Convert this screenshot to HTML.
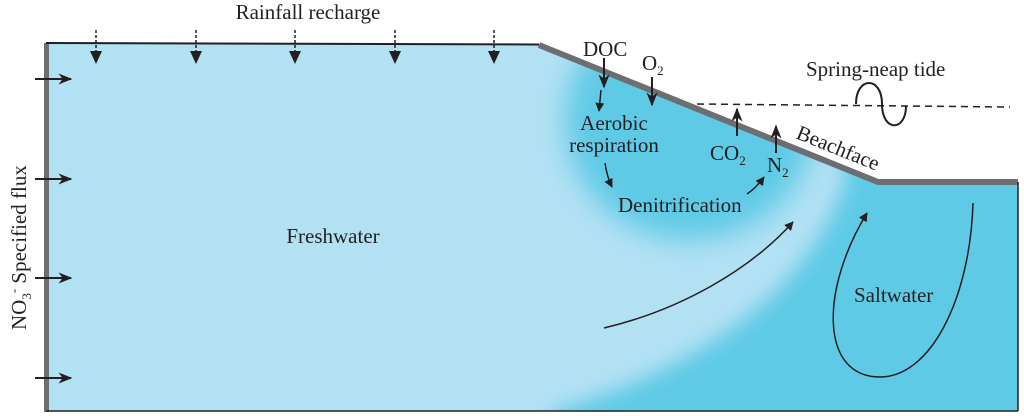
<!DOCTYPE html>
<html><head><meta charset="utf-8"><style>
html,body{margin:0;padding:0;background:#fff;overflow:hidden;width:1024px;height:416px;}
svg{display:block;}
text{font-family:"Liberation Serif",serif;fill:#231f20;}
</style></head><body>
<svg width="1024" height="416" viewBox="0 0 1024 416" xmlns="http://www.w3.org/2000/svg">
<defs>
<clipPath id="dom"><path d="M46,43 L539,45 L878,182 L1018,182 L1018,411 L46,411 Z"/></clipPath>
<filter id="bl" x="-50%" y="-50%" width="200%" height="200%"><feGaussianBlur stdDeviation="14"/></filter>
<filter id="bl2" x="-50%" y="-50%" width="200%" height="200%"><feGaussianBlur stdDeviation="10"/></filter>
<marker id="ah" viewBox="0 0 10 10" refX="9" refY="5" markerWidth="9" markerHeight="9" orient="auto" markerUnits="userSpaceOnUse"><path d="M0,0 L10,5 L0,10 Z" fill="#231f20"/></marker>
<marker id="ah2" viewBox="0 0 10 10" refX="9" refY="5" markerWidth="14" markerHeight="14" orient="auto" markerUnits="userSpaceOnUse"><path d="M0,1 L10,5 L0,9 L3,5 Z" fill="#231f20"/></marker>
</defs>
<g clip-path="url(#dom)">
<rect x="0" y="0" width="1024" height="416" fill="#b3e1f4"/>
<ellipse cx="690" cy="120" rx="125" ry="120" fill="#5ecae6" filter="url(#bl)"/>
<path d="M845,150 L1060,150 L1060,440 L540,440 L555,411 Q790,340 845,182 Z" fill="#5ecae6" filter="url(#bl2)"/>
</g>
<rect x="44" y="43" width="5" height="369" fill="#6d6e71"/>
<line x1="46" y1="43" x2="539" y2="44.5" stroke="#231f20" stroke-width="2"/>
<path d="M539,45 L878,182 L1018,182" fill="none" stroke="#6d6e71" stroke-width="6"/>
<line x1="1018" y1="182" x2="1018" y2="411" stroke="#231f20" stroke-width="1.5"/>
<line x1="46" y1="411" x2="1018" y2="411" stroke="#231f20" stroke-width="1.5"/>
<g stroke="#231f20" stroke-width="1.5" stroke-dasharray="3,2" fill="none">
<line x1="96" y1="30" x2="96" y2="60"/><line x1="196" y1="30" x2="196" y2="60"/><line x1="295" y1="30" x2="295" y2="60"/><line x1="395" y1="30" x2="395" y2="60"/><line x1="494" y1="30" x2="494" y2="60"/>
</g>
<g fill="#231f20">
<path d="M90,51 L102,51 L96,64 Z"/><path d="M190,51 L202,51 L196,64 Z"/><path d="M289,51 L301,51 L295,64 Z"/><path d="M389,51 L401,51 L395,64 Z"/><path d="M488,51 L500,51 L494,64 Z"/>
</g>
<text x="308" y="19" font-size="21" text-anchor="middle">Rainfall recharge</text>
<g stroke="#231f20" stroke-width="2" fill="none" marker-end="url(#ah2)">
<line x1="35" y1="79" x2="71" y2="79"/><line x1="35" y1="179" x2="71" y2="179"/><line x1="35" y1="278" x2="71" y2="278"/><line x1="35" y1="378" x2="71" y2="378"/>
</g>
<text transform="translate(26,330) rotate(-90)" font-size="21">NO<tspan font-size="13" dy="5">3</tspan><tspan font-size="13" dy="-13">-</tspan><tspan dy="8"> Specified flux</tspan></text>
<text x="333" y="243" font-size="21" text-anchor="middle">Freshwater</text>
<text x="583" y="56" font-size="21">DOC</text>
<text x="642" y="70" font-size="21">O<tspan font-size="13" dy="5">2</tspan></text>
<g stroke="#231f20" stroke-width="2" fill="none" marker-end="url(#ah2)">
<line x1="604" y1="58" x2="604" y2="87"/>
<line x1="652" y1="77" x2="652" y2="105"/>
<line x1="737" y1="136" x2="737" y2="109"/>
<line x1="776" y1="153" x2="776" y2="126"/>
</g>
<text x="710" y="160" font-size="21">CO<tspan font-size="13" dy="5">2</tspan></text>
<text x="767" y="172" font-size="21">N<tspan font-size="13" dy="5">2</tspan></text>
<text transform="translate(795,138) rotate(22)" font-size="21">Beachface</text>
<text x="614" y="130" font-size="21" text-anchor="middle">Aerobic</text>
<text x="614" y="152" font-size="21" text-anchor="middle">respiration</text>
<text x="618" y="212" font-size="21">Denitrification</text>
<g stroke="#231f20" stroke-width="1.5" fill="none" marker-end="url(#ah)">
<path d="M601,90 Q600,100 599,111"/>
<path d="M605,163 Q607,177 612,187"/>
<path d="M747,194 Q756,188 764,177"/>
<path d="M604,328 C680,310 750,270 793,222"/>
<path d="M973,203 C970,300 930,377 880,377 C820,377 820,290 867,213"/>
</g>
<text x="854" y="302" font-size="21">Saltwater</text>
<line x1="697" y1="104" x2="1010" y2="107" stroke="#231f20" stroke-width="1.5" stroke-dasharray="7,5"/>
<path d="M856,104 C856,76 882,76 882,104 C882,132 906,132 906,106" fill="none" stroke="#231f20" stroke-width="2"/>
<text x="806" y="76" font-size="21">Spring-neap tide</text>
</svg>
</body></html>
